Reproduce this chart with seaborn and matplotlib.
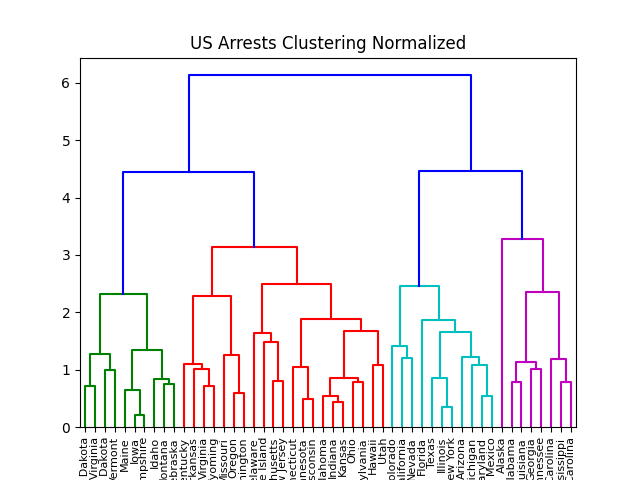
import seaborn as sns
import matplotlib.pyplot as plt
import numpy as np

# Leaf labels in display order
states = ['North Dakota', 'West Virginia', 'South Dakota', 'Vermont', 'Maine', 'Iowa',
          'New Hampshire', 'Idaho', 'Montana', 'Nebraska', 'Kentucky', 'Arkansas',
          'Virginia', 'Wyoming', 'Missouri', 'Oregon', 'Washington', 'Delaware',
          'Rhode Island', 'Massachusetts', 'New Jersey', 'Connecticut', 'Minnesota',
          'Wisconsin', 'Oklahoma', 'Indiana', 'Kansas', 'Ohio', 'Pennsylvania', 'Hawaii',
          'Utah', 'Colorado', 'California', 'Nevada', 'Florida', 'Texas', 'Illinois',
          'New York', 'Arizona', 'Michigan', 'Maryland', 'New Mexico', 'Alaska', 'Alabama',
          'Louisiana', 'Georgia', 'Tennessee', 'North Carolina', 'Mississippi',
          'South Carolina']

# Merges: cluster ids < 50 are leaves, merge k gets id 50 + k
merge_a = [5, 4, 0, 8, 7, 2, 52, 51, 56,
           12, 11, 10, 15, 14, 61, 19, 18, 17, 22, 21, 25, 24, 27, 71, 29, 73, 69, 67, 64,
           58,
           32, 31, 36, 35, 40, 39, 38, 83, 34, 81,
           43, 45, 90, 48, 47, 92, 42,
           89, 79]
merge_b = [6, 50, 1, 9, 53, 3, 55, 54, 57,
           13, 59, 60, 16, 62, 63, 20, 65, 66, 23, 68, 26, 70, 28, 72, 30, 74, 75, 76, 77,
           78,
           33, 80, 37, 82, 41, 84, 85, 86, 87, 88,
           44, 46, 91, 49, 93, 94, 95,
           96, 97]
merge_h = [0.21, 0.645, 0.72, 0.75, 0.84, 0.99, 1.27, 1.35, 2.32,
           0.72, 1.01, 1.10, 0.59, 1.26, 2.28, 0.80, 1.48, 1.64, 0.49, 1.05, 0.44, 0.55,
           0.785, 0.86, 1.08, 1.68, 1.88, 2.50, 3.13,
           4.45,
           1.21, 1.41, 0.35, 0.86, 0.55, 1.08, 1.22, 1.66, 1.87, 2.46,
           0.785, 1.01, 1.135, 0.785, 1.19, 2.36, 3.285,
           4.465, 6.13]

palette = ['g', 'r', 'c', 'm']
n = len(states)
threshold = 0.7 * max(merge_h)

xpos = {i: 10 * i + 5 for i in range(n)}
ypos = {i: 0.0 for i in range(n)}
for k, (a, b, h) in enumerate(zip(merge_a, merge_b, merge_h)):
    xpos[n + k] = (xpos[a] + xpos[b]) / 2
    ypos[n + k] = h

# colour clusters below the threshold, walking from the root left to right
link_color = {}
color_idx = [0]

def paint(node, color):
    if node < n:
        return
    link_color[node] = color
    paint(merge_a[node - n], color)
    paint(merge_b[node - n], color)

def walk(node):
    if node < n:
        return
    if ypos[node] > threshold:
        link_color[node] = 'b'
        walk(merge_a[node - n])
        walk(merge_b[node - n])
    else:
        paint(node, palette[color_idx[0] % len(palette)])
        color_idx[0] += 1

walk(n + len(merge_h) - 1)

fig, ax = plt.subplots(figsize=(6.4, 4.8), dpi=100)
for k, (a, b, h) in enumerate(zip(merge_a, merge_b, merge_h)):
    xs = [xpos[a], xpos[a], xpos[b], xpos[b]]
    ys = [ypos[a], h, h, ypos[b]]
    sns.lineplot(x=xs, y=ys, sort=False, estimator=None, color=link_color[n + k],
                 linewidth=1.5, ax=ax)

ax.set_xlim(0, 10 * n)
ax.set_ylim(0, max(merge_h) * 1.05)
ax.set_xticks([xpos[i] for i in range(n)])
ax.set_xticklabels(states, rotation=90, fontsize=8)
ax.set_title('US Arrests Clustering Normalized')
fig.savefig('out.png', dpi=100)
